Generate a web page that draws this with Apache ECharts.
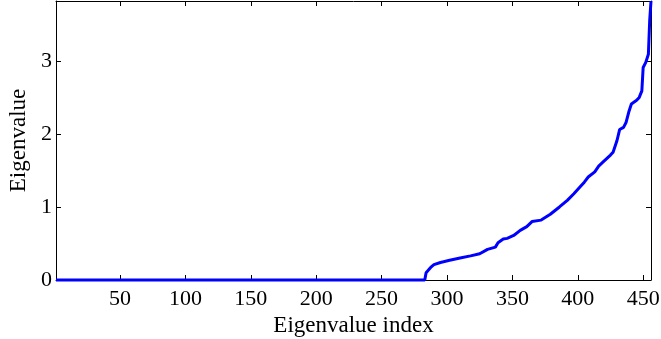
<!DOCTYPE html>
<html>
<head>
<meta charset="utf-8">
<script src="https://cdn.jsdelivr.net/npm/echarts@6/dist/echarts.min.js"></script>
<style>
  html, body { margin: 0; padding: 0; background: #fff; }
  #chart { width: 661px; height: 339px; }
</style>
</head>
<body>
<div id="chart"></div>
<script>
// polyline vertices
const eigIndex = [1, 283, 284, 285, 286, 288, 290, 295, 302, 310,
  318, 325, 331, 337, 339, 343, 346, 351, 356, 361,
  365, 372, 379, 386, 392, 397, 402, 405, 408, 413,
  416, 419, 425, 427, 430, 432, 435, 437, 439, 441,
  445, 447, 449, 450, 452, 454, 455, 456]
const eigValue = [0, 0, 0.10, 0.11, 0.14, 0.18, 0.21, 0.24, 0.27, 0.30,
  0.33, 0.36, 0.42, 0.45, 0.51, 0.56, 0.57, 0.61, 0.68, 0.73,
  0.80, 0.82, 0.90, 1.00, 1.09, 1.18, 1.28, 1.34, 1.41, 1.48,
  1.56, 1.61, 1.71, 1.75, 1.91, 2.06, 2.09, 2.16, 2.30, 2.41,
  2.46, 2.50, 2.59, 2.91, 2.98, 3.09, 3.55, 3.82]
const xTicks = [50, 100, 150, 200, 250, 300, 350, 400, 450]
const yTicks = [0, 1, 2, 3]
const xRange = [1, 456]
const yRange = [0, 3.82]

const font = 'Liberation Serif'
const chart = echarts.init(document.getElementById('chart'))

const boxLine = { show: true, onZero: false, lineStyle: { color: '#000', width: 1 } }
const tickIn = (vals) => ({ show: true, inside: true, length: 5, customValues: vals, lineStyle: { color: '#000' } })

chart.setOption({
  animation: false,
  backgroundColor: '#fff',
  grid: { left: 56, right: 10, top: 1, bottom: 59, outerBoundsMode: 'none', containLabel: false },
  xAxis: [
    {
      type: 'value',
      min: xRange[0],
      max: xRange[1],
      name: 'Eigenvalue index',
      nameLocation: 'middle',
      nameGap: 27,
      nameTextStyle: { fontFamily: font, fontSize: 23, color: '#000' },
      axisLine: boxLine,
      axisTick: tickIn(xTicks),
      axisLabel: { customValues: xTicks, margin: 8, fontFamily: font, fontSize: 22, color: '#000' },
      splitLine: { show: false },
    },
    {
      type: 'value',
      position: 'top',
      min: xRange[0],
      max: xRange[1],
      axisLine: boxLine,
      axisTick: tickIn(xTicks),
      axisLabel: { show: false },
      splitLine: { show: false },
    },
  ],
  yAxis: [
    {
      type: 'value',
      min: yRange[0],
      max: yRange[1],
      name: 'Eigenvalue',
      nameLocation: 'middle',
      nameGap: 18,
      nameTextStyle: { fontFamily: font, fontSize: 23, color: '#000' },
      axisLine: boxLine,
      axisTick: tickIn(yTicks),
      axisLabel: { customValues: yTicks, margin: 4, fontFamily: font, fontSize: 22, color: '#000' },
      splitLine: { show: false },
    },
    {
      type: 'value',
      position: 'right',
      min: yRange[0],
      max: yRange[1],
      axisLine: boxLine,
      axisTick: tickIn(yTicks),
      axisLabel: { show: false },
      splitLine: { show: false },
    },
  ],
  series: [
    {
      type: 'line',
      data: eigIndex.map((x, i) => [x, eigValue[i]]),
      symbol: 'none',
      clip: false,
      lineStyle: { color: '#0000ff', width: 3 },
    },
  ],
})
</script>
</body>
</html>
